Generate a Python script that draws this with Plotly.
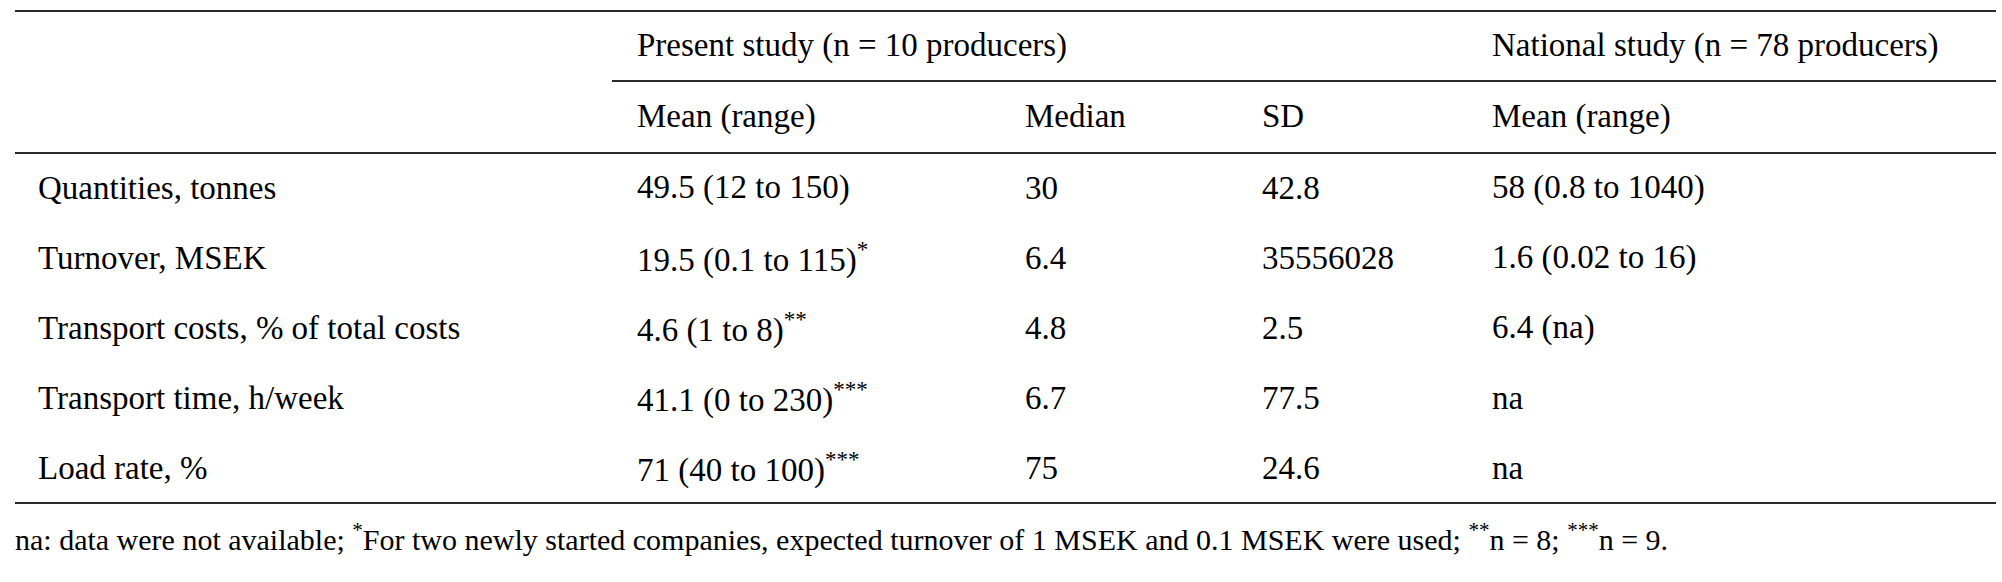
import plotly.graph_objects as go

# table contents
row_labels = [
    "Quantities, tonnes",
    "Turnover, MSEK",
    "Transport costs, % of total costs",
    "Transport time, h/week",
    "Load rate, %",
]
mean_range = ["49.5 (12 to 150)", "19.5 (0.1 to 115)", "4.6 (1 to 8)", "41.1 (0 to 230)", "71 (40 to 100)"]
mean_marks = ["", "*", "**", "***", "***"]
median = ["30", "6.4", "4.8", "6.7", "75"]
sd = ["42.8", "35556028", "2.5", "77.5", "24.6"]
national = ["58 (0.8 to 1040)", "1.6 (0.02 to 16)", "6.4 (na)", "na", "na"]

group_headers = ["Present study (n = 10 producers)", "National study (n = 78 producers)"]
sub_headers = ["Mean (range)", "Median", "SD", "Mean (range)"]

footnote = (
    "na: data were not available; <sup>*</sup>For two newly started companies, "
    "expected turnover of 1 MSEK and 0.1 MSEK were used; <sup>**</sup>n = 8; <sup>***</sup>n = 9."
)

W, H = 2002, 582
FONT = "Liberation Serif"

# layout positions (pixels)
col_x = [38, 637, 1025, 1262, 1492]
row_y = [187.5, 257.5, 327.5, 397.5, 467.5]
group_y = 45
sub_y = 116
left, right = 15, 1996

fig = go.Figure()
# empty trace so the axes exist
fig.add_trace(go.Scatter(x=[0, W], y=[0, H], mode="markers",
                         marker=dict(opacity=0), hoverinfo="skip", showlegend=False))


def add_text(x, y, text, size=33):
    fig.add_annotation(
        x=x, y=y, text=text, xref="x", yref="y",
        xanchor="left", yanchor="middle", showarrow=False,
        borderpad=0, borderwidth=0,
        font=dict(family=FONT, size=size, color="#000000"),
    )


for i, y in enumerate(row_y):
    add_text(col_x[0], y, row_labels[i])
    mark = "<sup>" + mean_marks[i] + "</sup>" if mean_marks[i] else ""
    add_text(col_x[1], y, mean_range[i] + mark)
    add_text(col_x[2], y, median[i])
    add_text(col_x[3], y, sd[i])
    add_text(col_x[4], y, national[i])

add_text(col_x[1], group_y, group_headers[0])
add_text(col_x[4], group_y, group_headers[1])
for x, t in zip(col_x[1:], sub_headers):
    add_text(x, sub_y, t)
add_text(left, 537, footnote, size=30)

# horizontal rules
rules = [(left, right, 11), (612, right, 81), (left, right, 153), (left, right, 503)]
for x0, x1, y in rules:
    fig.add_shape(type="line", x0=x0, x1=x1, y0=y, y1=y,
                  line=dict(color="#2a2a2a", width=2.2), layer="above")

fig.update_layout(
    width=W,
    height=H,
    margin=dict(l=0, r=0, t=0, b=0),
    paper_bgcolor="white",
    plot_bgcolor="white",
    xaxis=dict(range=[0, W], visible=False, fixedrange=True),
    yaxis=dict(range=[H, 0], visible=False, fixedrange=True),
)

fig.write_html("out.html", config={"displayModeBar": False},
               post_script="document.body.style.margin='0';")
